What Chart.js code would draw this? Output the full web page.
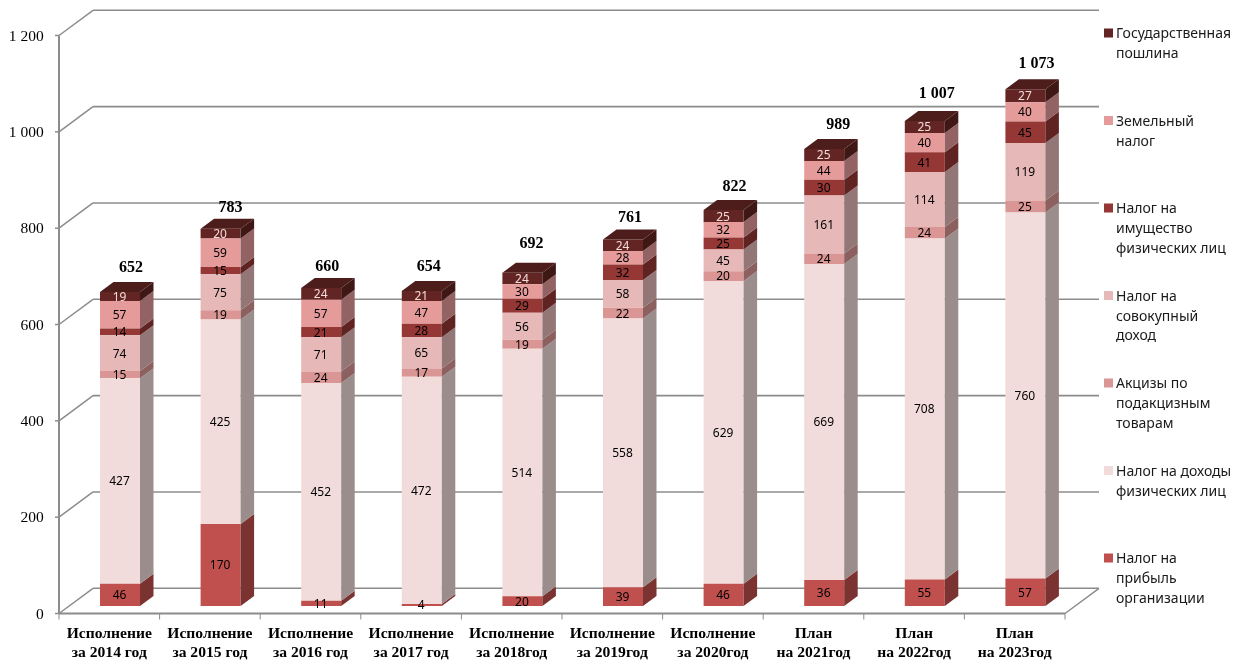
<!DOCTYPE html>
<html lang="ru">
<head>
<meta charset="utf-8">
<title>Налоговые доходы</title>
<script src="https://cdn.jsdelivr.net/npm/chart.js@4"></script>
<style>
html, body { margin: 0; padding: 0; background: #fff; }
canvas { display: block; }
</style>
</head>
<body>
<canvas id="taxChart" width="1234" height="662"></canvas>
<script>
const categories = [
    ['Исполнение', 'за 2014 год'], ['Исполнение', 'за 2015 год'], ['Исполнение', 'за 2016 год'],
    ['Исполнение', 'за 2017 год'], ['Исполнение', 'за 2018год'], ['Исполнение', 'за 2019год'],
    ['Исполнение', 'за 2020год'], ['План', 'на 2021год'], ['План', 'на 2022год'], ['План', 'на 2023год']
];
const profitTax   = [46, 170, 11, 4, 20, 39, 46, 54, 55, 57];
const incomeTax   = [427, 425, 452, 472, 514, 558, 629, 656, 708, 760];
const exciseTax   = [15, 19, 24, 17, 19, 22, 20, 22, 24, 25];
const simpleTax   = [74, 75, 71, 65, 56, 58, 45, 120, 114, 119];
const propertyTax = [14, 15, 21, 28, 29, 32, 25, 33, 41, 45];
const landTax     = [57, 59, 57, 47, 30, 28, 32, 39, 40, 40];
const stateDuty   = [19, 20, 24, 21, 24, 24, 25, 25, 25, 27];
// the 2021 column is drawn lower than its printed numbers say
const printed2021 = [36, 669, 24, 161, 30, 44, 25];
const totals = ['652', '783', '660', '654', '692', '761', '822', '989', '1 007', '1 073'];
const yTicks = { min: 0, max: 1200, step: 200 };

const seriesNames = [
    ['Налог на', 'прибыль', 'организации'],
    ['Налог на доходы', 'физических лиц'],
    ['Акцизы по', 'подакцизным', 'товарам'],
    ['Налог на', 'совокупный', 'доход'],
    ['Налог на', 'имущество', 'физических лиц'],
    ['Земельный', 'налог'],
    ['Государственная', 'пошлина']
];
const seriesValues = [profitTax, incomeTax, exciseTax, simpleTax, propertyTax, landTax, stateDuty];
const seriesColors = ['#c0504d', '#f2dcdb', '#d99694', '#e6b9b8', '#953735', '#e69b9b', '#632523'];

// depth of the fake 3D: bar plane sits between front axis and back wall
const frontDx = -10.7, frontDy = 7.5, backDx = 23.3, backDy = -17.7;
const sideDx = 13.5, sideDy = -10;
const lineColor = '#8c8c8c';
// the total labels were placed by hand in the original, small nudges per column
const totalNudgeX = [11, 10, 6, 7, 9, 7, 11, 14, 12, 11];
const totalNudgeY = [-24, -21, -21, -24, -29, -22, -23, -24, -27, -25];

function shade(hex, k) {
    const n = parseInt(hex.slice(1), 16);
    const r = Math.round((n >> 16) * k), g = Math.round(((n >> 8) & 255) * k), b = Math.round((n & 255) * k);
    return `rgb(${r},${g},${b})`;
}

function poly(ctx, pts, color) {
    ctx.fillStyle = color;
    ctx.beginPath();
    pts.forEach((p, i) => i ? ctx.lineTo(p[0], p[1]) : ctx.moveTo(p[0], p[1]));
    ctx.closePath();
    ctx.fill();
}

function seg(ctx, x1, y1, x2, y2, width) {
    ctx.lineWidth = width;
    ctx.strokeStyle = lineColor;
    ctx.beginPath();
    ctx.moveTo(x1, y1);
    ctx.lineTo(x2, y2);
    ctx.stroke();
}

const wallsPlugin = {
    id: 'walls',
    beforeDatasetsDraw(chart) {
        const ctx = chart.ctx, x = chart.scales.x, y = chart.scales.y;
        const left = x.left + frontDx, right = x.right + frontDx;
        ctx.save();
        y.ticks.forEach(t => {
            const py = y.getPixelForValue(t.value);
            seg(ctx, left, py + frontDy, x.left + backDx, py + backDy, 1.5);
            seg(ctx, x.left + backDx, py + backDy, x.right + backDx, py + backDy, 1.6);
            seg(ctx, left - 4, py + frontDy, left, py + frontDy, 1.5);
        });
        const zero = y.getPixelForValue(0), top = y.getPixelForValue(yTicks.max);
        seg(ctx, left, top + frontDy, left, zero + frontDy, 2);
        seg(ctx, left, zero + frontDy, right, zero + frontDy, 2);
        seg(ctx, right, zero + frontDy, x.right + backDx, zero + backDy, 1.5);
        for (let i = 0; i <= categories.length; i++) {
            const px = left + (right - left) * i / categories.length;
            seg(ctx, px, zero + frontDy, px, zero + frontDy + 6, 1);
        }
        ctx.restore();
    }
};

const barSidesPlugin = {
    id: 'barSides',
    afterDatasetsDraw(chart) {
        const ctx = chart.ctx;
        ctx.save();
        chart.data.datasets.forEach((ds, d) => {
            chart.getDatasetMeta(d).data.forEach(bar => {
                const xr = bar.x + bar.width / 2;
                poly(ctx, [[xr, bar.y], [xr + sideDx, bar.y + sideDy], [xr + sideDx, bar.base + sideDy], [xr, bar.base]],
                    shade(ds.backgroundColor, 0.64));
            });
        });
        const last = chart.data.datasets.length - 1;
        chart.getDatasetMeta(last).data.forEach((bar, i) => {
            const xl = bar.x - bar.width / 2, xr = bar.x + bar.width / 2;
            poly(ctx, [[xl, bar.y], [xl + sideDx, bar.y + sideDy], [xr + sideDx, bar.y + sideDy], [xr, bar.y]],
                shade(seriesColors[last], 0.78));
            ctx.fillStyle = '#000';
            ctx.font = 'bold 16px "Liberation Serif"';
            ctx.textAlign = 'center';
            ctx.textBaseline = 'middle';
            ctx.fillText(totals[i], bar.x + totalNudgeX[i], bar.y + totalNudgeY[i]);
        });
        // value labels
        ctx.font = '12px "Noto Sans"';
        chart.data.datasets.forEach((ds, d) => {
            ctx.fillStyle = d === last ? '#f2dcdb' : '#000';
            chart.getDatasetMeta(d).data.forEach((bar, i) => {
                const text = i === 7 ? printed2021[d] : ds.data[i];
                ctx.fillText(String(text), bar.x - 0.5, (bar.y + bar.base) / 2 + 1);
            });
        });
        ctx.restore();
    }
};

const sideLegendPlugin = {
    id: 'sideLegend',
    afterDraw(chart) {
        const ctx = chart.ctx;
        ctx.save();
        ctx.font = '14px "Noto Sans"';
        ctx.textAlign = 'left';
        ctx.textBaseline = 'middle';
        seriesNames.slice().reverse().forEach((lines, k) => {
            const y0 = 33 + 87.5 * k;
            ctx.fillStyle = seriesColors[seriesColors.length - 1 - k];
            ctx.fillRect(1104, y0 - 4.5, 9, 9);
            ctx.fillStyle = '#1a1a1a';
            lines.forEach((line, j) => ctx.fillText(line, 1116, y0 + 1.5 + j * 19.7));
        });
        ctx.restore();
    }
};

new Chart(document.getElementById('taxChart').getContext('2d'), {
    type: 'bar',
    data: {
        labels: categories,
        datasets: seriesNames.map((name, i) => ({
            label: name.join(' '),
            data: seriesValues[i],
            backgroundColor: seriesColors[i],
            barPercentage: 40 / 100.6,
            categoryPercentage: 1
        }))
    },
    options: {
        responsive: false,
        animation: false,
        layout: { padding: { top: 28, right: 158.3, left: 0, bottom: 0 } },
        plugins: { legend: { display: false }, tooltip: { enabled: false } },
        scales: {
            x: {
                stacked: true,
                grid: { display: false },
                border: { display: false },
                afterFit: s => { s.height = 56; s.paddingLeft = 0; s.paddingRight = 0; },
                ticks: {
                    autoSkip: false,
                    maxRotation: 0,
                    padding: 10,
                    labelOffset: frontDx,
                    color: '#000',
                    font: { family: '"Liberation Serif"', size: 15.6, weight: 'bold', lineHeight: 1.23 }
                }
            },
            y: {
                stacked: true,
                min: yTicks.min,
                max: yTicks.max,
                grid: { display: false },
                border: { display: false },
                afterFit: s => { s.width = 69.7; s.paddingTop = 0; s.paddingBottom = 0; },
                ticks: {
                    stepSize: yTicks.step,
                    padding: 18,
                    labelOffset: frontDy + 1.2,
                    color: '#000',
                    font: { family: '"Liberation Serif"', size: 15.5 },
                    callback: v => String(v).replace(/\B(?=(\d{3})+$)/g, ' ')
                }
            }
        }
    },
    plugins: [wallsPlugin, barSidesPlugin, sideLegendPlugin]
});
</script>
</body>
</html>
